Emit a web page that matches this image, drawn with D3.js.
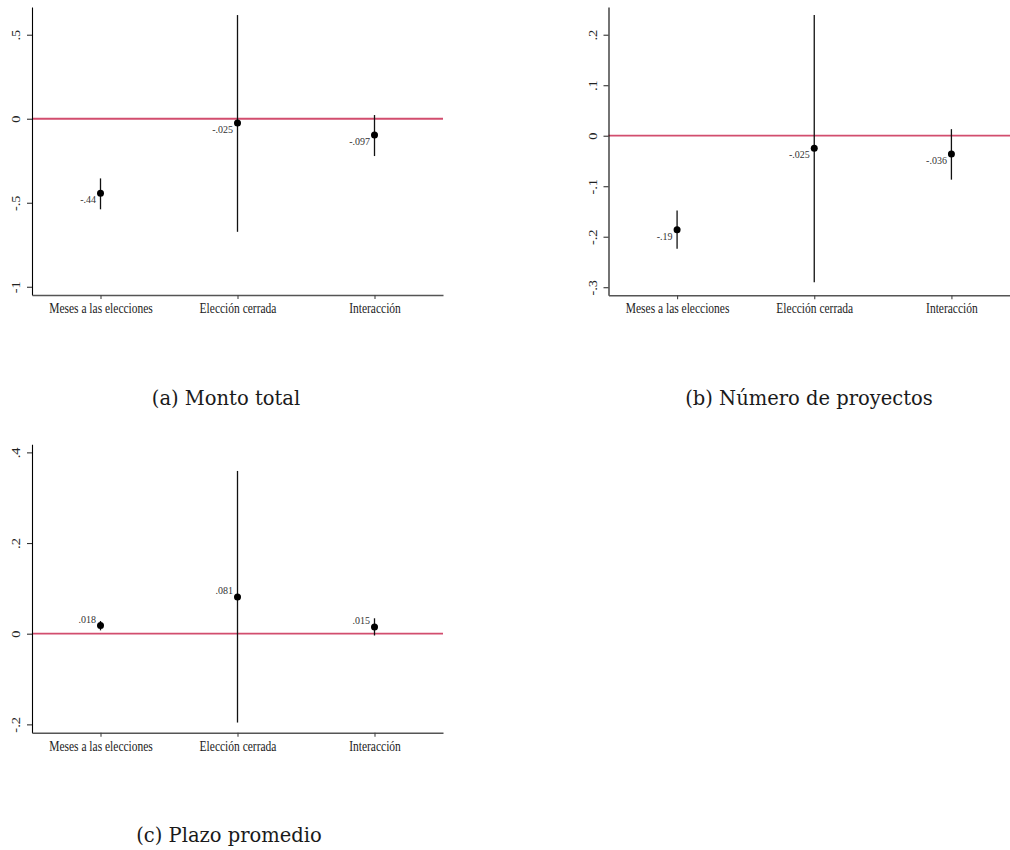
<!DOCTYPE html>
<html>
<head>
<meta charset="utf-8">
<script src="https://cdn.jsdelivr.net/npm/d3@7/dist/d3.min.js"></script>
<style>
  html, body { margin: 0; padding: 0; background: #fff; }
  svg { display: block; }
</style>
</head>
<body>
<svg id="chart" width="1010" height="850"></svg>
<script>
// ---------------- data ----------------
const categories = ["Meses a las elecciones", "Elección cerrada", "Interacción"];

// (a) Monto total
const montoCoef   = [-0.444, -0.025, -0.097];
const montoLow    = [-0.539, -0.673, -0.222];
const montoHigh   = [-0.355,  0.617,  0.022];
const montoLabels = ["-.44", "-.025", "-.097"];
const montoTicks      = [-1, -0.5, 0, 0.5];
const montoTickLabels = ["-1", "-.5", "0", ".5"];

// (b) Número de proyectos
const proyCoef   = [-0.186, -0.025, -0.036];
const proyLow    = [-0.224, -0.290, -0.087];
const proyHigh   = [-0.148,  0.239,  0.013];
const proyLabels = ["-.19", "-.025", "-.036"];
const proyTicks      = [-0.3, -0.2, -0.1, 0, 0.1, 0.2];
const proyTickLabels = ["-.3", "-.2", "-.1", "0", ".1", ".2"];

// (c) Plazo promedio
const plazoCoef   = [0.018, 0.081, 0.015];
const plazoLow    = [0.0074, -0.196, -0.004];
const plazoHigh   = [0.028, 0.359, 0.034];
const plazoLabels = [".018", ".081", ".015"];
const plazoTicks      = [-0.2, 0, 0.2, 0.4];
const plazoTickLabels = ["-.2", "0", ".2", ".4"];

const captions = ["(a) Monto total", "(b) Número de proyectos", "(c) Plazo promedio"];

// ---------------- layout ----------------
const panels = [
  { coef: montoCoef, lo: montoLow, hi: montoHigh, labels: montoLabels,
    ticks: montoTicks, tickLabels: montoTickLabels, caption: captions[0],
    left: 32, right: 443, top: 7, bottom: 295, yDomain: [-1.049, 0.665],
    capX: 226, capY: 404.5 },
  { coef: proyCoef, lo: proyLow, hi: proyHigh, labels: proyLabels,
    ticks: proyTicks, tickLabels: proyTickLabels, caption: captions[1],
    left: 608.5, right: 1020, top: 7, bottom: 295.3, yDomain: [-0.316, 0.2549],
    capX: 809, capY: 404.5 },
  { coef: plazoCoef, lo: plazoLow, hi: plazoHigh, labels: plazoLabels,
    ticks: plazoTicks, tickLabels: plazoTickLabels, caption: captions[2],
    left: 32, right: 443, top: 444.3, bottom: 732.7, yDomain: [-0.2184, 0.4178],
    capX: 229, capY: 842 }
];

const svg = d3.select("#chart");
const statFont = "'Liberation Serif', 'Times New Roman', serif";
const capFont = "'DejaVu Serif', serif";
const refColor = "#d24d6e";

panels.forEach(p => {
  const x = d3.scalePoint().domain(categories).range([p.left, p.right]).padding(0.5);
  const y = d3.scaleLinear().domain(p.yDomain).range([p.bottom, p.top]);
  const g = svg.append("g");

  // reference line at zero
  g.append("line")
    .attr("x1", p.left).attr("x2", p.right)
    .attr("y1", y(0)).attr("y2", y(0))
    .attr("stroke", refColor).attr("stroke-width", 1.8);

  // y axis
  const yAxis = d3.axisLeft(y)
    .tickValues(p.ticks)
    .tickFormat((d, i) => p.tickLabels[i])
    .tickSize(5).tickSizeOuter(0);
  const yg = g.append("g").attr("transform", `translate(${p.left},0)`).call(yAxis);
  yg.select(".domain").attr("stroke", "#000").attr("stroke-width", 1.1);
  yg.selectAll(".tick line").attr("stroke", "#333").attr("stroke-width", 1.1);
  yg.selectAll(".tick text")
    .attr("x", 0).attr("y", -12).attr("dy", 0)
    .attr("text-anchor", "middle")
    .attr("transform", "scale(1,1.25) rotate(-90)")
    .attr("font-family", statFont).attr("font-size", 11.5).attr("fill", "#222");

  // x axis
  const xAxis = d3.axisBottom(x).tickSize(4).tickSizeOuter(0);
  const xg = g.append("g").attr("transform", `translate(0,${p.bottom})`).call(xAxis);
  xg.select(".domain").attr("stroke", "#555").attr("stroke-width", 1.5);
  xg.selectAll(".tick line").attr("stroke", "#444").attr("stroke-width", 1.1);
  xg.selectAll(".tick text")
    .attr("y", 18 / 1.2).attr("dy", 0)
    .attr("transform", "scale(1,1.2)")
    .attr("font-family", statFont).attr("font-size", 11.5).attr("fill", "#222");

  // confidence intervals
  g.selectAll(".ci").data(categories).enter().append("line")
    .attr("x1", d => x(d)).attr("x2", d => x(d))
    .attr("y1", (d, i) => y(p.lo[i])).attr("y2", (d, i) => y(p.hi[i]))
    .attr("stroke", "#111").attr("stroke-width", 1.3);

  // points
  g.selectAll(".pt").data(categories).enter().append("circle")
    .attr("cx", d => x(d)).attr("cy", (d, i) => y(p.coef[i]))
    .attr("r", 3.5).attr("fill", "#000");

  // point labels
  g.selectAll(".lab").data(categories).enter().append("text")
    .attr("x", d => x(d) - 4.5)
    .attr("y", (d, i) => y(p.coef[i]) + (p.coef[i] < 0 ? 10 : -3))
    .attr("text-anchor", "end")
    .attr("font-family", statFont).attr("font-size", 10).attr("fill", "#333")
    .text((d, i) => p.labels[i]);

  // caption
  svg.append("text")
    .attr("x", p.capX).attr("y", p.capY)
    .attr("text-anchor", "middle")
    .attr("font-family", capFont).attr("font-size", 19.5).attr("fill", "#1a1a1a")
    .text(p.caption);
});
</script>
</body>
</html>
